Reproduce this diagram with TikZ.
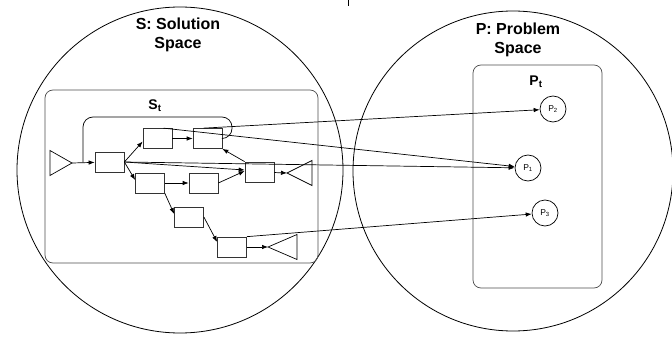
\documentclass[tikz,border=0pt]{standalone}
\usepackage{fontspec}
\setmainfont{Liberation Sans}
\usetikzlibrary{arrows.meta}

\begin{document}
\begin{tikzpicture}[x=1pt, y=-1pt, line width=0.7pt,
  box/.style={draw=black!80, minimum width=29pt, minimum height=20pt, inner sep=0pt},
  pnode/.style={draw, circle, minimum size=26pt, inner sep=0pt, font=\fontsize{8.5}{8.5}\selectfont},
  flow/.style={-{Latex[length=6pt,width=4.5pt]}},
  title/.style={font=\fontsize{16}{19}\selectfont\bfseries, align=center}]

  \useasboundingbox (0,0) rectangle (672,342);

  % the two spaces
  \draw[line width=0.8pt] (180,170) circle (163pt);
  \draw[line width=0.8pt] (513,171) circle (160pt);
  \draw (348,0) -- (348,6);
  \node[title] (stitle) at (178,35) {S: Solution\\Space};
  \node[title] (ptitle) at (518,40) {P: Problem\\Space};

  % subsets
  \draw[black!70, rounded corners=8pt] (45,90) rectangle (318,263);
  \draw[black!70, rounded corners=8pt] (473,65) rectangle (602,288);
  \node[font=\fontsize{14}{14}\selectfont\bfseries] (stlabel) at (155,106) {S\textsubscript{t}};
  \node[font=\fontsize{14}{14}\selectfont\bfseries] (ptlabel) at (536,82) {P\textsubscript{t}};

  % process boxes
  \node[box] (A) at (109.5,162) {};
  \node[box] (B) at (157.5,138.5) {};
  \node[box] (C) at (207.5,138.5) {};
  \node[box] (D) at (150,183) {};
  \node[box] (E) at (203.5,183) {};
  \node[box] (F) at (259.5,172) {};
  \node[box] (G) at (189,217) {};
  \node[box] (H) at (232,247) {};

  % start and end triangles
  \coordinate (src) at (72,163);
  \coordinate (sink1) at (287,173);
  \coordinate (sink2) at (268,247);
  \draw (src) -- ++(-22,-12.5) -- ++(0,25) -- cycle;
  \draw (sink1) -- ++(25,-12.5) -- ++(0,25) -- cycle;
  \draw (sink2) -- ++(29,-12.5) -- ++(0,25) -- cycle;

  % problems
  \node[pnode] (p2) at (553,109) {P\textsubscript{2}};
  \node[pnode] (p1) at (528,168) {P\textsubscript{1}};
  \node[pnode] (p3) at (545,213) {P\textsubscript{3}};

  % flow inside S_t
  \coordinate (fork) at (83,162.5);
  \coordinate (looptop) at (232,117);
  \draw[flow] (src) -- (A);
  \draw[rounded corners=10pt] (fork) |- (looptop) |- (C.east);
  \draw[flow] (A.east) -- ([yshift=-3pt]B.west);
  \draw[flow] (A.east) -- ([yshift=3pt]D.west);
  \draw[flow] (A.east) -- ([yshift=2pt]F.west);
  \draw[flow] (B) -- (C);
  \draw[flow] (D) -- (E);
  \draw[flow] (E.east) -- ([yshift=1pt]F.west);
  \draw[flow] (F.north west) -- (C.south east);
  \draw[flow] (F) -- (sink1);
  \draw[flow] (D.south east) -- ([yshift=3pt]G.west);
  \draw[flow] (G.east) -- ([yshift=5pt]H.west);
  \draw[flow] (H) -- (sink2);

  % mapping to problems
  \draw[flow] ([xshift=-4pt]C.north) -- (p2);
  \draw[flow] ([xshift=6pt]B.north) -- (p1);
  \draw[flow] (A.east) -- (p1);
  \draw[flow] (H.north east) -- (p3);
\end{tikzpicture}
\end{document}
